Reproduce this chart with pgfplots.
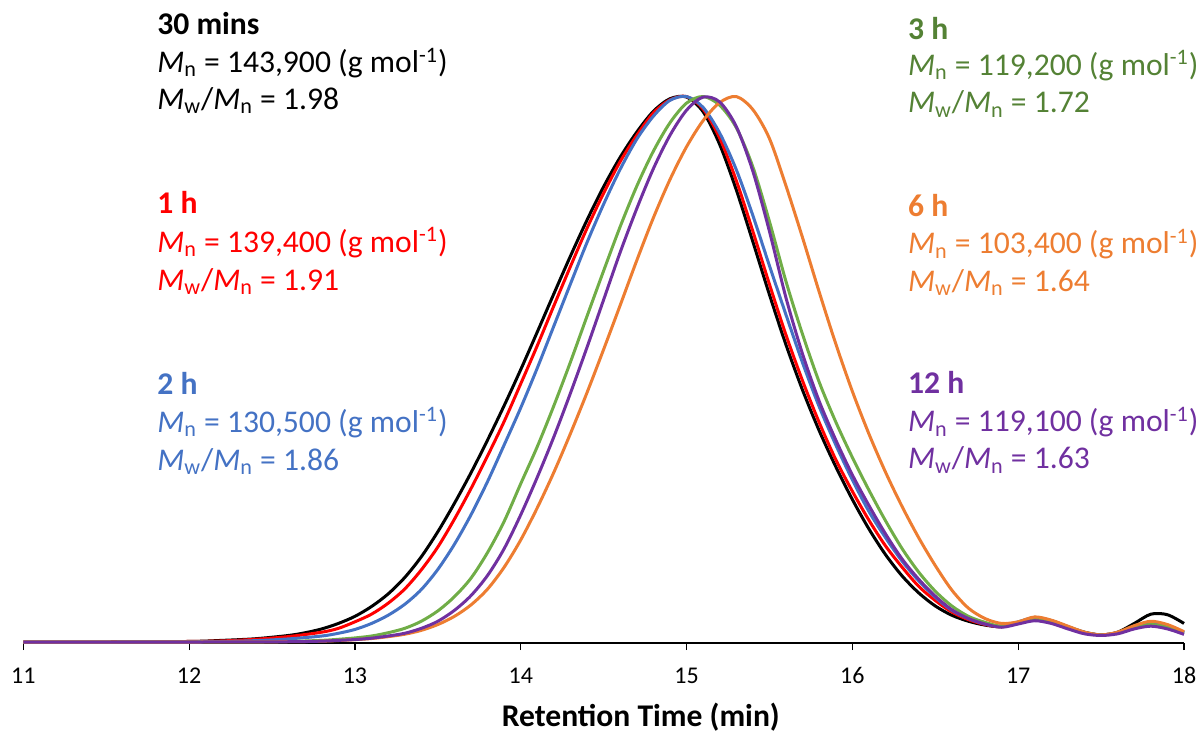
\documentclass[border=0pt]{standalone}
\usepackage{pgfplots}
\pgfplotsset{compat=1.18}
\usepackage{fontspec}
\setmainfont{Carlito}
\definecolor{cRed}{HTML}{FF0000}
\definecolor{cBlue}{HTML}{4472C4}
\definecolor{cGreen}{HTML}{70AD47}
\definecolor{cGreenT}{HTML}{548235}
\definecolor{cOrange}{HTML}{ED7D31}
\definecolor{cPurple}{HTML}{7030A0}
\newcommand{\Mn}{\textit{M}\textsubscript{n}}
\newcommand{\Mw}{\textit{M}\textsubscript{w}}
\newcommand{\gmol}{(g mol\textsuperscript{-1})}
\begin{document}
\begin{tikzpicture}
\path[use as bounding box] (-11.65pt,-45pt) rectangle (587.85pt,321.5pt);
\begin{axis}[
  scale only axis, width=580.35pt, height=321.5pt,
  xmin=11, xmax=18, ymin=-0.0018, ymax=1.1758,
  axis x line*=bottom, axis y line=none,
  clip=false,
  xtick={11,12,13,14,15,16,17,18},
  tick align=outside, major tick length=3.5pt,
  x axis line style={line width=0.7pt, black},
  xtick style={line width=0.6pt, black},
  /pgf/number format/assume math mode=true,
  xticklabel style={font=\fontsize{12}{14}\selectfont, anchor=base, yshift=-16.8pt},
  xlabel={Retention Time (min)},
  xlabel style={font=\fontsize{15.8}{18}\selectfont\bfseries, at={(axis description cs:0.532,0)}, anchor=base, yshift=-41.5pt},
  every axis plot/.append style={line width=1.5pt, smooth, no markers},
]
\addplot[black] coordinates {(11.0,0) (11.5,0) (12.0,0.001) (12.2,0.003) (12.4,0.006) (12.6,0.012) (12.7,0.017) (12.8,0.024) (12.9,0.034) (13.0,0.047) (13.1,0.065) (13.2,0.088) (13.3,0.118) (13.4,0.156) (13.5,0.202) (13.6,0.254) (13.7,0.310) (13.8,0.370) (13.9,0.433) (14.0,0.499) (14.1,0.568) (14.2,0.638) (14.3,0.707) (14.4,0.773) (14.5,0.834) (14.6,0.888) (14.7,0.934) (14.8,0.972) (14.9,0.995) (15.0,0.998) (15.1,0.971) (15.2,0.911) (15.3,0.828) (15.4,0.733) (15.5,0.636) (15.6,0.544) (15.7,0.461) (15.8,0.387) (15.9,0.321) (16.0,0.261) (16.1,0.207) (16.2,0.160) (16.3,0.121) (16.4,0.090) (16.5,0.066) (16.6,0.049) (16.7,0.038) (16.8,0.031) (16.9,0.028) (17.0,0.035) (17.1,0.044) (17.2,0.039) (17.3,0.028) (17.4,0.018) (17.5,0.013) (17.6,0.018) (17.7,0.034) (17.8,0.051) (17.9,0.050) (18.0,0.034)};
\addplot[cRed] coordinates {(11.0,0) (11.5,0) (12.0,0.001) (12.2,0.002) (12.4,0.005) (12.6,0.010) (12.8,0.018) (12.9,0.025) (13.0,0.037) (13.1,0.051) (13.2,0.071) (13.3,0.097) (13.4,0.132) (13.5,0.174) (13.6,0.225) (13.7,0.281) (13.8,0.341) (13.9,0.404) (14.0,0.473) (14.1,0.543) (14.2,0.616) (14.3,0.688) (14.4,0.758) (14.5,0.822) (14.6,0.880) (14.7,0.928) (14.8,0.969) (14.9,0.993) (15.0,0.999) (15.1,0.976) (15.2,0.923) (15.3,0.845) (15.4,0.752) (15.5,0.655) (15.6,0.562) (15.7,0.478) (15.8,0.402) (15.9,0.334) (16.0,0.276) (16.1,0.223) (16.2,0.176) (16.3,0.137) (16.4,0.102) (16.5,0.076) (16.6,0.055) (16.7,0.041) (16.8,0.032) (16.9,0.028) (17.0,0.036) (17.1,0.044) (17.2,0.038) (17.3,0.027) (17.4,0.017) (17.5,0.013) (17.6,0.017) (17.7,0.028) (17.8,0.034) (17.9,0.029) (18.0,0.018)};
\addplot[cBlue] coordinates {(11.0,0) (11.5,0) (12.0,0.0004) (12.2,0.001) (12.4,0.0025) (12.6,0.0057) (12.8,0.011) (12.9,0.016) (13.0,0.023) (13.1,0.034) (13.2,0.049) (13.3,0.069) (13.4,0.096) (13.5,0.133) (13.6,0.179) (13.7,0.233) (13.8,0.294) (13.9,0.361) (14.0,0.429) (14.1,0.502) (14.2,0.579) (14.3,0.656) (14.4,0.732) (14.5,0.802) (14.6,0.866) (14.7,0.921) (14.8,0.963) (14.9,0.992) (15.0,0.999) (15.1,0.979) (15.2,0.932) (15.3,0.865) (15.4,0.781) (15.5,0.689) (15.6,0.599) (15.7,0.511) (15.8,0.431) (15.9,0.361) (16.0,0.297) (16.1,0.239) (16.2,0.191) (16.3,0.148) (16.4,0.112) (16.5,0.082) (16.6,0.058) (16.7,0.043) (16.8,0.033) (16.9,0.029) (17.0,0.037) (17.1,0.045) (17.2,0.039) (17.3,0.028) (17.4,0.017) (17.5,0.013) (17.6,0.017) (17.7,0.028) (17.8,0.035) (17.9,0.029) (18.0,0.017)};
\addplot[cGreen] coordinates {(11.0,0) (12.0,0) (12.4,0.0004) (12.6,0.001) (12.8,0.003) (12.9,0.005) (13.0,0.0075) (13.1,0.011) (13.2,0.017) (13.3,0.025) (13.4,0.038) (13.5,0.057) (13.6,0.083) (13.7,0.117) (13.8,0.164) (13.9,0.221) (14.0,0.290) (14.1,0.358) (14.2,0.433) (14.3,0.513) (14.4,0.597) (14.5,0.680) (14.6,0.761) (14.7,0.835) (14.8,0.899) (14.9,0.951) (15.0,0.987) (15.1,0.999) (15.2,0.983) (15.3,0.942) (15.4,0.870) (15.5,0.770) (15.6,0.660) (15.7,0.563) (15.8,0.476) (15.9,0.403) (16.0,0.338) (16.1,0.278) (16.2,0.222) (16.3,0.171) (16.4,0.128) (16.5,0.093) (16.6,0.066) (16.7,0.047) (16.8,0.036) (16.9,0.029) (17.0,0.036) (17.1,0.044) (17.2,0.038) (17.3,0.027) (17.4,0.017) (17.5,0.013) (17.6,0.017) (17.7,0.027) (17.8,0.032) (17.9,0.027) (18.0,0.016)};
\addplot[cOrange] coordinates {(11.0,0) (12.0,0) (12.6,0.0006) (12.8,0.0016) (12.9,0.0027) (13.0,0.0043) (13.1,0.0064) (13.2,0.0098) (13.3,0.0142) (13.4,0.0213) (13.5,0.032) (13.6,0.047) (13.7,0.068) (13.8,0.097) (13.9,0.137) (14.0,0.187) (14.1,0.246) (14.2,0.311) (14.3,0.382) (14.4,0.457) (14.5,0.536) (14.6,0.617) (14.7,0.699) (14.8,0.777) (14.9,0.847) (15.0,0.907) (15.1,0.955) (15.2,0.988) (15.3,0.999) (15.4,0.975) (15.5,0.922) (15.6,0.835) (15.7,0.740) (15.8,0.641) (15.9,0.546) (16.0,0.459) (16.1,0.381) (16.2,0.311) (16.3,0.248) (16.4,0.191) (16.5,0.140) (16.6,0.095) (16.7,0.062) (16.8,0.043) (16.9,0.034) (17.0,0.037) (17.1,0.046) (17.2,0.040) (17.3,0.029) (17.4,0.018) (17.5,0.013) (17.6,0.018) (17.7,0.030) (17.8,0.038) (17.9,0.032) (18.0,0.019)};
\addplot[cPurple] coordinates {(11.0,0) (12.0,0) (12.6,0.0005) (12.8,0.0016) (12.9,0.003) (13.0,0.0045) (13.1,0.007) (13.2,0.011) (13.3,0.016) (13.4,0.025) (13.5,0.038) (13.6,0.058) (13.7,0.085) (13.8,0.122) (13.9,0.171) (14.0,0.233) (14.1,0.302) (14.2,0.376) (14.3,0.456) (14.4,0.540) (14.5,0.627) (14.6,0.714) (14.7,0.794) (14.8,0.867) (14.9,0.928) (15.0,0.974) (15.1,0.998) (15.2,0.989) (15.3,0.944) (15.4,0.862) (15.5,0.752) (15.6,0.630) (15.7,0.527) (15.8,0.441) (15.9,0.370) (16.0,0.306) (16.1,0.250) (16.2,0.198) (16.3,0.152) (16.4,0.115) (16.5,0.084) (16.6,0.059) (16.7,0.043) (16.8,0.033) (16.9,0.027) (17.0,0.033) (17.1,0.039) (17.2,0.034) (17.3,0.024) (17.4,0.015) (17.5,0.012) (17.6,0.015) (17.7,0.024) (17.8,0.029) (17.9,0.024) (18.0,0.014)};
% annotations
\begin{scope}[every node/.style={anchor=base west, inner sep=0pt, font=\fontsize{15.8}{18}\selectfont}]
\node[black] at (axis cs:11.806,1.112) {\textbf{30 mins}};
\node[black] at (axis cs:11.806,1.043) {\Mn{} = 143,900 \gmol};
\node[black] at (axis cs:11.806,0.975) {\Mw/\Mn{} = 1.98};
\node[cRed] at (axis cs:11.806,0.784) {\textbf{1 h}};
\node[cRed] at (axis cs:11.806,0.714) {\Mn{} = 139,400 \gmol};
\node[cRed] at (axis cs:11.806,0.644) {\Mw/\Mn{} = 1.91};
\node[cBlue] at (axis cs:11.806,0.454) {\textbf{2 h}};
\node[cBlue] at (axis cs:11.806,0.384) {\Mn{} = 130,500 \gmol};
\node[cBlue] at (axis cs:11.806,0.315) {\Mw/\Mn{} = 1.86};
\node[cGreenT] at (axis cs:16.334,1.104) {\textbf{3 h}};
\node[cGreenT] at (axis cs:16.334,1.038) {\Mn{} = 119,200 \gmol};
\node[cGreenT] at (axis cs:16.334,0.969) {\Mw/\Mn{} = 1.72};
\node[cOrange] at (axis cs:16.334,0.779) {\textbf{6 h}};
\node[cOrange] at (axis cs:16.334,0.711) {\Mn{} = 103,400 \gmol};
\node[cOrange] at (axis cs:16.334,0.642) {\Mw/\Mn{} = 1.64};
\node[cPurple] at (axis cs:16.334,0.455) {\textbf{12 h}};
\node[cPurple] at (axis cs:16.334,0.385) {\Mn{} = 119,100 \gmol};
\node[cPurple] at (axis cs:16.334,0.317) {\Mw/\Mn{} = 1.63};
\end{scope}
\end{axis}
\end{tikzpicture}
\end{document}
